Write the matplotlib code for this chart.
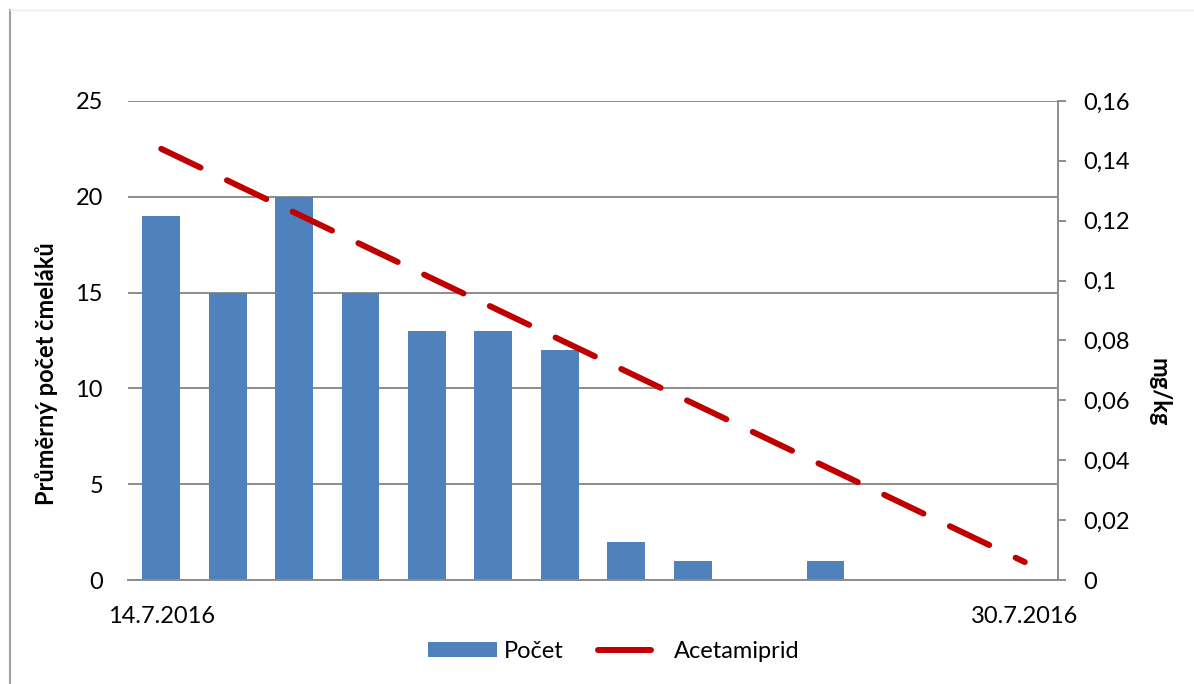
"""Bar chart of bumblebee counts with the acetamiprid residue trend on a second axis."""

import matplotlib

matplotlib.use("Agg")
import matplotlib.pyplot as plt
import numpy as np
from matplotlib.legend_handler import HandlerLine2D
from matplotlib.lines import Line2D
from matplotlib.patches import Patch
from matplotlib.ticker import FuncFormatter, MultipleLocator

# data
dates = [
    "14.7.2016", "", "", "", "", "", "", "", "", "", "", "", "", "30.7.2016",
]
pocet = [19, 15, 20, 15, 13, 13, 12, 2, 1, 0, 1, 0, 0, 0]
# straight trend line of acetamiprid residue (mg/kg), first and last day
acetamiprid_days = [0, 13]
acetamiprid = [0.144, 0.006]

BAR_COLOR = "#4F81BD"
LINE_COLOR = "#C00000"
GRID_COLOR = "#8C8C8C"
FS = 17


class ShortLineHandler(HandlerLine2D):
    """Legend line drawn over the left part of the handle box only."""

    def create_artists(self, legend, orig_handle, xdescent, ydescent,
                       width, height, fontsize, trans):
        artists = super().create_artists(legend, orig_handle, xdescent,
                                         ydescent, width, height, fontsize,
                                         trans)
        for artist in artists:
            xs = np.asarray(artist.get_xdata(), dtype=float)
            if len(xs) >= 2:
                end = xs[0] + 0.78 * (xs[-1] - xs[0])
                artist.set_xdata(np.linspace(xs[0], end, len(xs)))
        return artists


plt.rcParams["font.family"] = ["Lato", "DejaVu Sans"]

fig = plt.figure(figsize=(11.94, 6.84), dpi=100)
ax = fig.add_axes([0.1072, 0.152, 0.7789, 0.7005])

x = list(range(len(pocet)))
ax.bar(x, pocet, width=0.57, color=BAR_COLOR, zorder=2)
ax.set_xlim(-0.5, len(pocet) - 0.5)
ax.set_ylim(0, 25)
ax.yaxis.set_major_locator(MultipleLocator(5))
ax.grid(axis="y", color=GRID_COLOR, linewidth=1.4, zorder=0)
ax.set_axisbelow(True)
ax.set_xticks(x)
ax.set_xticklabels(dates)
ax.tick_params(axis="x", length=0, pad=19, labelsize=FS)
ax.tick_params(axis="y", length=0, pad=18, labelsize=FS)
for side in ("top", "left", "right"):
    ax.spines[side].set_visible(False)
ax.spines["bottom"].set_color(GRID_COLOR)
ax.spines["bottom"].set_linewidth(1.4)

ax2 = ax.twinx()
ax2.plot(acetamiprid_days, acetamiprid, color=LINE_COLOR, linewidth=4.3,
         linestyle=(0, (7.3, 4.9)), dash_capstyle="round", zorder=3)
ax2.set_ylim(0, 0.16)
ax2.yaxis.set_major_locator(MultipleLocator(0.02))
ax2.yaxis.set_major_formatter(
    FuncFormatter(lambda v, _: f"{round(v, 2):g}".replace(".", ","))
)
ax2.tick_params(axis="y", length=6, width=1.4, color=GRID_COLOR, pad=12,
                labelsize=FS)
for side in ("top", "left", "bottom"):
    ax2.spines[side].set_visible(False)
ax2.spines["right"].set_color(GRID_COLOR)
ax2.spines["right"].set_linewidth(1.4)

fig.text(0.039, 1 - 374 / 684, "Průměrný počet čmeláků", rotation=90,
         ha="center", va="center", fontsize=FS, fontweight="bold")
fig.text(0.971, 1 - 392 / 684, "mg/kg", rotation=270,
         ha="center", va="center", fontsize=FS, fontweight="bold")

bar_handle = Patch(facecolor=BAR_COLOR, edgecolor="none")
line_handle = Line2D([0], [0], color=LINE_COLOR, linewidth=4.3,
                     solid_capstyle="round")
fig.legend([bar_handle, line_handle], ["Počet", "Acetamiprid"], loc="center",
           bbox_to_anchor=(0.514, 1 - 651 / 684), ncol=2, frameon=False,
           fontsize=FS, handlelength=2.9, handleheight=0.6,
           columnspacing=1.46, handletextpad=0.3,
           handler_map={line_handle: ShortLineHandler()})

# outer chart frame
fig.add_artist(Line2D([0.0085, 0.0085], [0.0, 0.985], color="#A0A0A0",
                      linewidth=1.5, transform=fig.transFigure))
fig.add_artist(Line2D([0.0085, 1.0], [0.985, 0.985], color="#EDEDED",
                      linewidth=1.0, transform=fig.transFigure))

fig.savefig("out.png", dpi=100)
